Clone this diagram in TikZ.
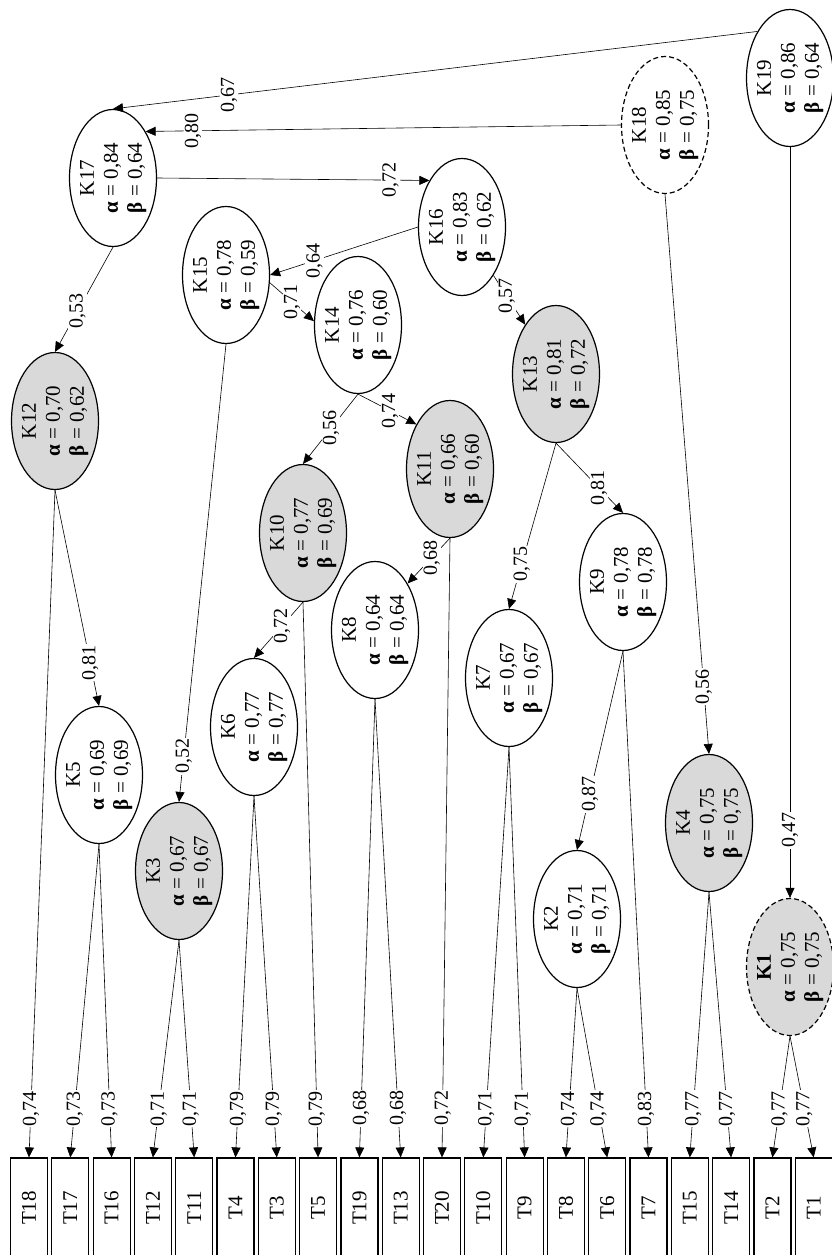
\documentclass[tikz,border=0pt]{standalone}
\usepackage{fontspec}
\setmainfont{Liberation Serif}
\usetikzlibrary{shapes.geometric, arrows.meta}

\newcommand{\kt}[3]{\rotatebox{90}{\begin{tabular}{@{}c@{}}#1\\ \textbf{α} = #2\\ \textbf{β} = #3\end{tabular}}}

\tikzset{
  knode/.style={ellipse, draw, line width=1.2pt, minimum width=87pt, minimum height=137pt, inner sep=0pt},
  kgray/.style={knode, fill=gray!30},
  kdash/.style={dash pattern=on 5pt off 3pt},
  tbox/.style={rectangle, draw, line width=1.2pt, minimum width=37pt, minimum height=100pt, inner sep=0pt},
  conn/.style={-{Triangle[length=10pt,width=9pt]}, line width=0.6pt},
  lbl/.style={fill=white, inner sep=1pt, rotate=90, font=\fontsize{20}{22}\selectfont},
}

\begin{document}
\begin{tikzpicture}[x=1pt, y=-1pt, font=\fontsize{21}{24}\selectfont]
    \useasboundingbox (0,0) rectangle (832,1255);

    % clusters
    \node[knode, label={center:\kt{K19}{0,86}{0,64}}] (K19) at (790,78) {};
    \node[knode, kdash, label={center:\kt{K18}{0,85}{0,75}}] (K18) at (665,125) {};
    \node[knode, label={center:\kt{K17}{0,84}{0,64}}] (K17) at (113,178) {};
    \node[knode, label={center:\kt{K16}{0,83}{0,62}}] (K16) at (462,227) {};
    \node[knode, label={center:\kt{K15}{0,78}{0,59}}] (K15) at (226,275) {};
    \node[knode, label={center:\kt{K14}{0,76}{0,60}}] (K14) at (358,325) {};
    \node[kgray, label={center:\kt{K13}{0,81}{0,72}}] (K13) at (556,374) {};
    \node[kgray, label={center:\kt{K12}{0,70}{0,62}}] (K12) at (55,421) {};
    \node[kgray, label={center:\kt{K11}{0,66}{0,60}}] (K11) at (450,469) {};
    \node[kgray, label={center:\kt{K10}{0,77}{0,69}}] (K10) at (303,533) {};
    \node[knode, label={center:\kt{K9}{0,78}{0,78}}] (K9) at (623,582) {};
    \node[knode, label={center:\kt{K8}{0,64}{0,64}}] (K8) at (375,630) {};
    \node[knode, label={center:\kt{K7}{0,67}{0,67}}] (K7) at (509,678) {};
    \node[knode, label={center:\kt{K6}{0,77}{0,77}}] (K6) at (254,727) {};
    \node[knode, label={center:\kt{K5}{0,69}{0,69}}] (K5) at (99,775) {};
    \node[kgray, label={center:\kt{K4}{0,75}{0,75}}] (K4) at (709,823) {};
    \node[kgray, label={center:\kt{K3}{0,67}{0,67}}] (K3) at (179,871) {};
    \node[knode, label={center:\kt{K2}{0,71}{0,71}}] (K2) at (577,919) {};
    \node[kgray, kdash, label={center:\kt{\textbf{K1}}{0,75}{0,75}}] (K1) at (790,967) {};

    % items
    \node[tbox] (T18) at (29,1208) {\rotatebox{90}{T18}};
    \node[tbox] (T17) at (70.3,1208) {\rotatebox{90}{T17}};
    \node[tbox] (T16) at (111.6,1208) {\rotatebox{90}{T16}};
    \node[tbox] (T12) at (152.9,1208) {\rotatebox{90}{T12}};
    \node[tbox] (T11) at (194.2,1208) {\rotatebox{90}{T11}};
    \node[tbox] (T4) at (235.5,1208) {\rotatebox{90}{T4}};
    \node[tbox] (T3) at (276.8,1208) {\rotatebox{90}{T3}};
    \node[tbox] (T5) at (318.1,1208) {\rotatebox{90}{T5}};
    \node[tbox] (T19) at (359.4,1208) {\rotatebox{90}{T19}};
    \node[tbox] (T13) at (400.7,1208) {\rotatebox{90}{T13}};
    \node[tbox] (T20) at (442,1208) {\rotatebox{90}{T20}};
    \node[tbox] (T10) at (483.3,1208) {\rotatebox{90}{T10}};
    \node[tbox] (T9) at (524.6,1208) {\rotatebox{90}{T9}};
    \node[tbox] (T8) at (565.9,1208) {\rotatebox{90}{T8}};
    \node[tbox] (T6) at (607.2,1208) {\rotatebox{90}{T6}};
    \node[tbox] (T7) at (648.5,1208) {\rotatebox{90}{T7}};
    \node[tbox] (T15) at (689.8,1208) {\rotatebox{90}{T15}};
    \node[tbox] (T14) at (731.1,1208) {\rotatebox{90}{T14}};
    \node[tbox] (T2) at (772.4,1208) {\rotatebox{90}{T2}};
    \node[tbox] (T1) at (813.7,1208) {\rotatebox{90}{T1}};

    % cluster to cluster
    \draw[conn] (K19.125) -- node[lbl, pos=0.82] {0,67} (K17.north);
    \draw[conn] (K18.west) -- node[lbl, pos=0.9] {0,80} (K17.55);
    \draw[conn] (K17.east) -- node[lbl, pos=0.857] {0,72} (K16.125);
    \draw[conn] (K16.west) -- node[lbl, pos=0.7] {0,64} (K15.east);
    \draw[conn] (K15.-10) -- node[lbl, pos=0.5] {0,71} (K14.175);
    \draw[conn] (K17.south) -- node[lbl, pos=0.61] {0,53} (K12.north);
    \draw[conn] (K16.-57) -- node[lbl, pos=0.42] {0,57} (K13.122);
    \draw[conn] (K14.south) -- node[lbl, pos=0.55] {0,74} (K11.127);
    \draw[conn] (K14.south) -- node[lbl, pos=0.49] {0,56} (K10.north);
    \draw[conn] (K13.south) -- node[lbl, pos=0.64] {0,81} (K9.north);
    \draw[conn] (K13.south) -- node[lbl, pos=0.73] {0,75} (K7.north);
    \draw[conn] (K11.south) -- node[lbl, pos=0.43] {0,68} (K8.55);
    \draw[conn] (K10.south) -- node[lbl, pos=0.43] {0,72} (K6.north);
    \draw[conn] (K12.south) -- node[lbl, pos=0.8] {0,81} (K5.north);
    \draw[conn] (K15.south) -- node[lbl, pos=0.9] {0,52} (K3.north);
    \draw[conn] (K9.south) -- node[lbl, pos=0.72] {0,87} (K2.north);
    \draw[conn] (K18.south) -- node[lbl, pos=0.88] {0,56} (K4.north);
    \draw[conn] (K19.south) -- node[lbl, pos=0.91] {0,47} (K1.north);

    % cluster to item
    \draw[conn] (K12.south) -- node[lbl, pos=0.927] {0,74} (T18.north);
    \draw[conn] (K5.south) -- node[lbl, pos=0.844] {0,73} (T17.north);
    \draw[conn] (K5.south) -- node[lbl, pos=0.844] {0,73} (T16.north);
    \draw[conn] (K3.south) -- node[lbl, pos=0.776] {0,71} (T12.north);
    \draw[conn] (K3.south) -- node[lbl, pos=0.776] {0,71} (T11.north);
    \draw[conn] (K6.south) -- node[lbl, pos=0.865] {0,79} (T4.north);
    \draw[conn] (K6.south) -- node[lbl, pos=0.865] {0,79} (T3.north);
    \draw[conn] (K10.south) -- node[lbl, pos=0.912] {0,79} (T5.north);
    \draw[conn] (K8.south) -- node[lbl, pos=0.893] {0,68} (T19.north);
    \draw[conn] (K8.south) -- node[lbl, pos=0.893] {0,68} (T13.north);
    \draw[conn] (K11.south) -- node[lbl, pos=0.921] {0,72} (T20.north);
    \draw[conn] (K7.south) -- node[lbl, pos=0.881] {0,71} (T10.north);
    \draw[conn] (K7.south) -- node[lbl, pos=0.881] {0,71} (T9.north);
    \draw[conn] (K2.south) -- node[lbl, pos=0.713] {0,74} (T8.north);
    \draw[conn] (K2.south) -- node[lbl, pos=0.713] {0,74} (T6.north);
    \draw[conn] (K9.south) -- node[lbl, pos=0.904] {0,83} (T7.north);
    \draw[conn] (K4.south) -- node[lbl, pos=0.816] {0,77} (T15.north);
    \draw[conn] (K4.south) -- node[lbl, pos=0.816] {0,77} (T14.north);
    \draw[conn] (K1.south) -- node[lbl, pos=0.6] {0,77} (T2.north);
    \draw[conn] (K1.south) -- node[lbl, pos=0.6] {0,77} (T1.north);
\end{tikzpicture}
\end{document}
